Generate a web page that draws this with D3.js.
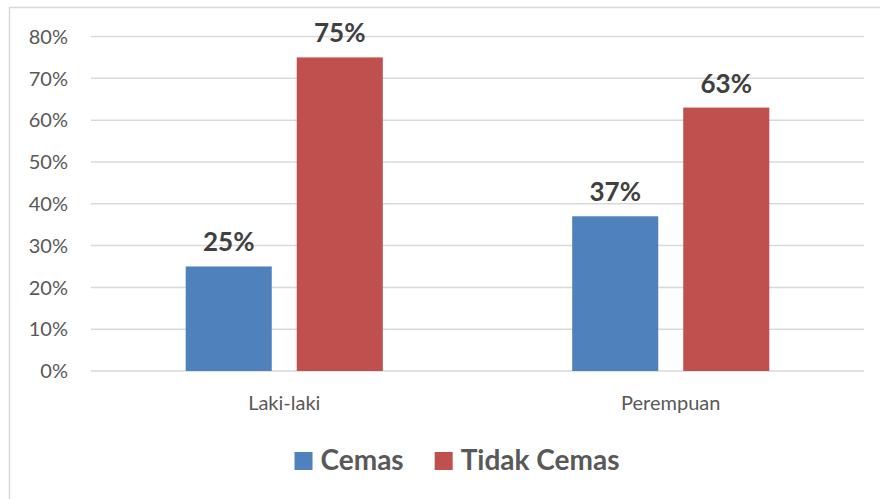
<!doctype html>
<html lang="en">
<head>
  <meta charset="utf-8">
  <title>Cemas by gender</title>
  <script src="https://d3js.org/d3.v7.min.js"></script>
  <style>
    body { margin: 0; background: #fff; }
    text { font-family: Lato, "Open Sans", sans-serif; }
  </style>
</head>
<body>
<div id="chart"></div>
<script>
  // data
  const categories = ["Laki-laki", "Perempuan"];
  const series = ["Cemas", "Tidak Cemas"];
  const cemas = [25, 37];
  const tidakCemas = [75, 63];
  const yTicks = [0, 10, 20, 30, 40, 50, 60, 70, 80];
  const colors = ["#4f81bd", "#c0504d"];

  const values = [cemas, tidakCemas];
  const rows = categories.map((c, i) => ({cat: c, vals: series.map((s, j) => ({s: s, j: j, v: values[j][i]}))}));

  const width = 880, height = 499;
  const margin = {top: 36.5, right: 16, bottom: 128, left: 91};

  const svg = d3.select("#chart").append("svg")
    .attr("width", width)
    .attr("height", height);

  // outer frame (only left and top visible)
  svg.append("rect")
    .attr("x", 9.5).attr("y", 7.5)
    .attr("width", 1000).attr("height", 1000)
    .attr("fill", "none")
    .attr("stroke", "#d9d9d9")
    .attr("stroke-width", 1.5);

  const x0 = d3.scaleBand()
    .domain(categories)
    .range([margin.left, width - margin.right])
    .paddingInner(0.49)
    .paddingOuter(0.245);

  const x1 = d3.scaleBand()
    .domain(series)
    .range([0, x0.bandwidth()])
    .paddingInner(0.225);

  const y = d3.scaleLinear()
    .domain([0, 80])
    .range([height - margin.bottom, margin.top]);

  // gridlines
  svg.append("g")
    .selectAll("line")
    .data(yTicks)
    .join("line")
      .attr("x1", margin.left)
      .attr("x2", width - margin.right)
      .attr("y1", d => y(d))
      .attr("y2", d => y(d))
      .attr("stroke", "#d9d9d9")
      .attr("stroke-width", 1.5);

  // y axis labels
  svg.append("g")
    .selectAll("text")
    .data(yTicks)
    .join("text")
      .attr("x", 68)
      .attr("y", d => y(d))
      .attr("dy", "0.36em")
      .attr("text-anchor", "end")
      .attr("fill", "#595959")
      .style("font-size", "20px")
      .text(d => d + "%");

  // bars
  const groups = svg.append("g")
    .selectAll("g")
    .data(rows)
    .join("g")
      .attr("transform", d => "translate(" + x0(d.cat) + ",0)");

  groups.selectAll("rect")
    .data(d => d.vals)
    .join("rect")
      .attr("x", d => x1(d.s))
      .attr("width", x1.bandwidth())
      .attr("y", d => y(d.v))
      .attr("height", d => y(0) - y(d.v))
      .attr("fill", d => colors[d.j]);

  groups.selectAll("text")
    .data(d => d.vals)
    .join("text")
      .attr("x", d => x1(d.s) + x1.bandwidth() / 2)
      .attr("y", d => y(d.v) - 15)
      .attr("text-anchor", "middle")
      .attr("fill", "#404040")
      .style("font-size", "26px")
      .style("font-weight", "bold")
      .text(d => d.v + "%");

  // category labels
  svg.append("g")
    .selectAll("text")
    .data(categories)
    .join("text")
      .attr("x", d => x0(d) + x0.bandwidth() / 2)
      .attr("y", 410)
      .attr("text-anchor", "middle")
      .attr("fill", "#595959")
      .style("font-size", "20px")
      .text(d => d);

  // legend
  const legend = svg.append("g");
  let lx = 0;
  series.forEach((s, i) => {
    const item = legend.append("g").attr("transform", "translate(" + lx + ",0)");
    item.append("rect")
      .attr("x", 0).attr("y", 452)
      .attr("width", 18).attr("height", 18)
      .attr("fill", colors[i]);
    const t = item.append("text")
      .attr("x", 26).attr("y", 470)
      .attr("fill", "#595959")
      .style("font-size", "28px")
      .style("font-weight", "bold")
      .text(s);
    lx += 26 + t.node().getComputedTextLength() + 31;
  });
  const lw = lx - 31;
  legend.attr("transform", "translate(" + (457 - lw / 2) + ",0)");
</script>
</body>
</html>
